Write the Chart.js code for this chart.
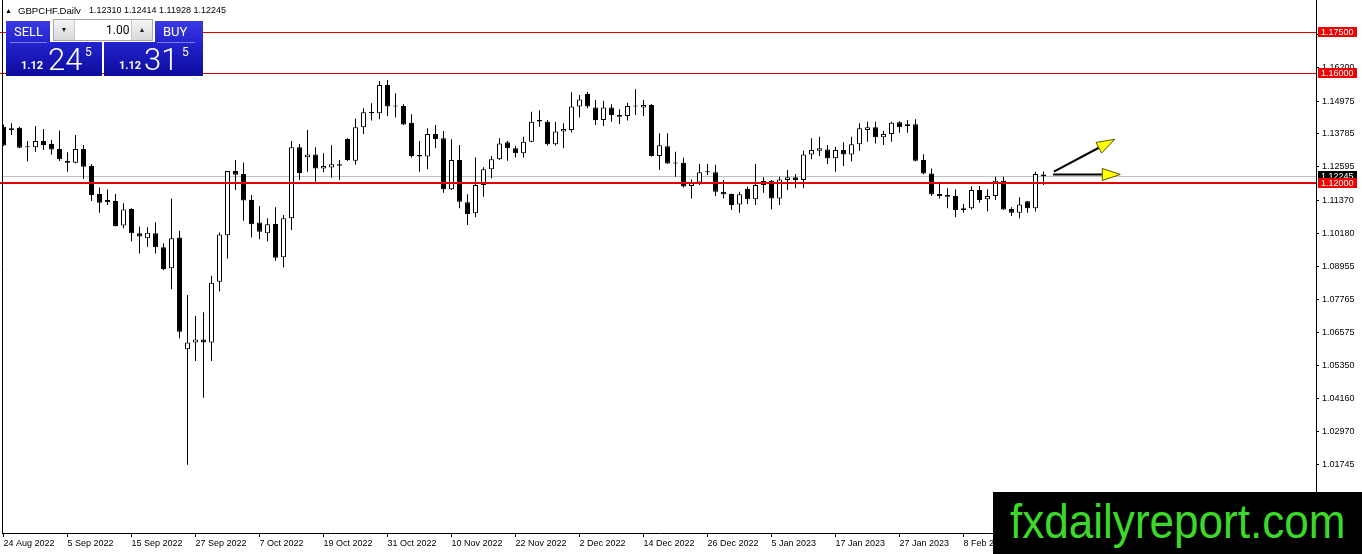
<!DOCTYPE html>
<html lang="es">
<head>
<meta charset="utf-8">
<title>GBPCHF, Daily</title>
<script src="https://cdn.jsdelivr.net/npm/chart.js@4.4.0/dist/chart.umd.min.js"></script>
<style>
  body { margin: 0; background: #fff; }
  #lienzo { position: relative; width: 1362px; height: 554px; overflow: hidden; background: #fff; font-family: "Liberation Sans", Arial, sans-serif; }
  #grafico { position: absolute; left: 0; top: 0; }
  .txt { position: absolute; white-space: nowrap; line-height: 1; }
  .bloque { position: absolute; background: linear-gradient(180deg, #3b3be6 0%, #2323cf 40%, #0c0c9c 100%); }
  .sep { position: absolute; height: 1px; background: #7c7cf0; }
  #marco { position: absolute; left: 50px; top: 14px; width: 105px; height: 28px; background: #fff; }
  #spin { position: absolute; left: 53px; top: 19px; width: 98px; height: 20px; border: 1px solid #a8a8a8; background: #fff; }
  .boton { position: absolute; top: 0; width: 20px; height: 20px; background: linear-gradient(180deg, #f4f4f4, #d9d9d9); font-size: 7px; line-height: 20px; text-align: center; color: #222; }
  #logo { position: absolute; left: 993px; top: 492px; width: 369px; height: 62px; background: #000; }
</style>
</head>
<body>
<div id="lienzo">
  <canvas id="grafico" width="1362" height="554"></canvas>
  <div id="logo"></div>
</div>
<script>
// Velas diarias GBPCHF (24 Aug 2022 - 22 Feb 2023)
const aperturas = [
  1.1405, 1.1399, 1.1401, 1.1331, 1.1330, 1.1353, 1.1342, 1.1324, 1.1280, 1.1274,
  1.1324, 1.1262, 1.1160, 1.1138, 1.1135, 1.1045, 1.1105, 1.1017, 1.0999, 1.1017,
  1.0966, 1.0890, 1.1002, 1.0595, 1.0620, 1.0631, 1.0620, 1.0841, 1.1010, 1.1244,
  1.1233, 1.1138, 1.1056, 1.1017, 1.1051, 1.0930, 1.1072, 1.1330, 1.1294, 1.1304,
  1.1253, 1.1256, 1.1268, 1.1360, 1.1281, 1.1403, 1.1458, 1.1454, 1.1556, 1.1481,
  1.1480, 1.1419, 1.1302, 1.1296, 1.1378, 1.1363, 1.1177, 1.1284, 1.1130, 1.1090,
  1.1193, 1.1250, 1.1286, 1.1348, 1.1326, 1.1308, 1.1350, 1.1429, 1.1423, 1.1341,
  1.1387, 1.1393, 1.1478, 1.1524, 1.1475, 1.1429, 1.1475, 1.1447, 1.1444, 1.1481,
  1.1475, 1.1484, 1.1298, 1.1334, 1.1274, 1.1274, 1.1189, 1.1202, 1.1239, 1.1239,
  1.1168, 1.1160, 1.1122, 1.1178, 1.1141, 1.1193, 1.1208, 1.1144, 1.1211, 1.1221,
  1.1211, 1.1304, 1.1317, 1.1322, 1.1290, 1.1320, 1.1304, 1.1341, 1.1393, 1.1403,
  1.1366, 1.1378, 1.1421, 1.1407, 1.1414, 1.1284, 1.1235, 1.1160, 1.1156, 1.1153,
  1.1102, 1.1108, 1.1175, 1.1141, 1.1153, 1.1208, 1.1105, 1.1092, 1.1134, 1.1108,
  1.12310
];
const maximos = [
  1.1413, 1.1417, 1.1405, 1.1353, 1.1407, 1.1396, 1.1356, 1.1390, 1.1312, 1.1375,
  1.1338, 1.1268, 1.1184, 1.1176, 1.1160, 1.1126, 1.1108, 1.1041, 1.1039, 1.1057,
  1.0981, 1.1144, 1.1026, 1.0793, 1.0716, 1.0730, 1.0863, 1.1020, 1.1244, 1.1284,
  1.1274, 1.1156, 1.1116, 1.1072, 1.1112, 1.1084, 1.1353, 1.1342, 1.1393, 1.1330,
  1.1308, 1.1337, 1.1284, 1.1363, 1.1435, 1.1472, 1.1490, 1.1571, 1.1575, 1.1526,
  1.1486, 1.1450, 1.1353, 1.1399, 1.1411, 1.1389, 1.1359, 1.1338, 1.1159, 1.1293,
  1.1257, 1.1298, 1.1363, 1.1354, 1.1335, 1.1368, 1.1459, 1.1465, 1.1429, 1.1423,
  1.1417, 1.1530, 1.1520, 1.1532, 1.1502, 1.1499, 1.1486, 1.1468, 1.1492, 1.1541,
  1.1502, 1.1487, 1.1381, 1.1381, 1.1314, 1.1292, 1.1213, 1.1269, 1.1269, 1.1266,
  1.1211, 1.1162, 1.1168, 1.1187, 1.1269, 1.1221, 1.1211, 1.1223, 1.1247, 1.1233,
  1.1318, 1.1363, 1.1368, 1.1338, 1.1332, 1.1348, 1.1368, 1.1417, 1.1423, 1.1423,
  1.1390, 1.1423, 1.1425, 1.1429, 1.1432, 1.1305, 1.1253, 1.1205, 1.1181, 1.1177,
  1.1124, 1.1187, 1.1189, 1.1177, 1.1223, 1.1223, 1.1112, 1.1148, 1.1135, 1.1241,
  1.12414
];
const minimos = [
  1.1335, 1.1375, 1.1326, 1.1278, 1.1314, 1.1320, 1.1304, 1.1280, 1.1241, 1.1272,
  1.1215, 1.1135, 1.1092, 1.1120, 1.1042, 1.1035, 1.0987, 1.0944, 1.0968, 1.0944,
  1.0883, 1.0814, 1.0635, 1.0175, 1.0553, 1.0419, 1.0553, 1.0805, 1.0925, 1.1175,
  1.1063, 1.1003, 1.0995, 1.0987, 1.0917, 1.0893, 1.1029, 1.1211, 1.1241, 1.1205,
  1.1239, 1.1219, 1.1211, 1.1280, 1.1266, 1.1378, 1.1427, 1.1432, 1.1444, 1.1439,
  1.1411, 1.1293, 1.1241, 1.1250, 1.1326, 1.1165, 1.1175, 1.1108, 1.1047, 1.1075,
  1.1150, 1.1217, 1.1284, 1.1281, 1.1293, 1.1293, 1.1348, 1.1405, 1.1336, 1.1336,
  1.1326, 1.1384, 1.1439, 1.1472, 1.1411, 1.1407, 1.1423, 1.1415, 1.1427, 1.1447,
  1.1444, 1.1296, 1.1247, 1.1269, 1.1223, 1.1184, 1.1144, 1.1193, 1.1229, 1.1153,
  1.1144, 1.1102, 1.1092, 1.1124, 1.1120, 1.1165, 1.1104, 1.1120, 1.1175, 1.1181,
  1.1181, 1.1286, 1.1298, 1.1269, 1.1241, 1.1262, 1.1278, 1.1317, 1.1350, 1.1344,
  1.1338, 1.1350, 1.1383, 1.1383, 1.1278, 1.1232, 1.1153, 1.1144, 1.1108, 1.1075,
  1.1092, 1.1104, 1.1128, 1.1096, 1.1138, 1.1102, 1.1080, 1.1072, 1.1092, 1.1096,
  1.11928
];
const cierres = [
  1.1336, 1.1393, 1.1328, 1.1330, 1.1353, 1.1338, 1.1322, 1.1286, 1.1274, 1.1324,
  1.1259, 1.1156, 1.1128, 1.1130, 1.1044, 1.1104, 1.1017, 1.1005, 1.1019, 1.0966,
  1.0887, 1.0999, 1.0659, 1.0620, 1.0631, 1.0620, 1.0837, 1.1013, 1.1244, 1.1230,
  1.1136, 1.1050, 1.1023, 1.1050, 1.0928, 1.1072, 1.1330, 1.1236, 1.1304, 1.1253,
  1.1262, 1.1268, 1.1263, 1.1284, 1.1403, 1.1457, 1.1454, 1.1556, 1.1478, 1.1478,
  1.1413, 1.1298, 1.1296, 1.1378, 1.1360, 1.1177, 1.1284, 1.1132, 1.1087, 1.1193,
  1.1250, 1.1286, 1.1344, 1.1326, 1.1308, 1.1350, 1.1423, 1.1424, 1.1341, 1.1387,
  1.1396, 1.1478, 1.1504, 1.1478, 1.1429, 1.1475, 1.1447, 1.1441, 1.1480, 1.1478,
  1.1484, 1.1298, 1.1337, 1.1271, 1.1271, 1.1187, 1.1199, 1.1239, 1.1241, 1.1168,
  1.1159, 1.1120, 1.1159, 1.1141, 1.1193, 1.1207, 1.1144, 1.1213, 1.1221, 1.1211,
  1.1304, 1.1320, 1.1326, 1.1290, 1.1320, 1.1304, 1.1341, 1.1399, 1.1403, 1.1366,
  1.1378, 1.1419, 1.1403, 1.1414, 1.1281, 1.1235, 1.1159, 1.1153, 1.1150, 1.1102,
  1.1108, 1.1175, 1.1138, 1.1153, 1.1208, 1.1104, 1.1092, 1.1122, 1.1108, 1.1233,
  1.12245
];

// Etiquetas del eje de tiempo (una cada 8 barras)
const etiquetasFechas = [
  "24 Aug 2022", "5 Sep 2022", "15 Sep 2022", "27 Sep 2022", "7 Oct 2022", "19 Oct 2022",
  "31 Oct 2022", "10 Nov 2022", "22 Nov 2022", "2 Dec 2022", "14 Dec 2022", "26 Dec 2022",
  "5 Jan 2023", "17 Jan 2023", "27 Jan 2023", "8 Feb 2023", "20 Feb 2023"
];
const barrasEtiquetas = [0, 8, 16, 24, 32, 40, 48, 56, 64, 72, 80, 88, 96, 104, 112, 120, 128];

// Marcas del eje de precios
const marcasPrecio = [1.17390, 1.16200, 1.14975, 1.13785, 1.12595, 1.11370, 1.10180, 1.08955,
  1.07765, 1.06575, 1.05350, 1.04160, 1.02970, 1.01745, 1.00520];

// Niveles horizontales rojos y precio actual
const nivelesRojos = [1.17500, 1.16000, 1.12000];
const precioBid = 1.12245;

// Flechas dibujadas a la derecha (barra, precio)
const flechasDesde = [[131.3, 1.1241], [131.2, 1.1231]];
const flechasHasta = [[138.9, 1.1359], [139.6, 1.1231]];

const FUENTE = "'Liberation Sans', Arial, sans-serif";

// Datos para la libreria: cuerpos y mechas como barras flotantes
const cuerpos = aperturas.map((o, i) => ({ x: i, y: [o, cierres[i]] }));
const mechas = maximos.map((h, i) => ({ x: i, y: [minimos[i], h] }));
const coloresCuerpo = aperturas.map((o, i) => (cierres[i] >= o ? "#ffffff" : "#000000"));

function dibujarFlecha(ctx, x1, y1, x2, y2) {
  const ang = Math.atan2(y2 - y1, x2 - x1);
  const largo = 18;
  const ancho = 6;
  const bx = x2 - largo * Math.cos(ang);
  const by = y2 - largo * Math.sin(ang);
  ctx.strokeStyle = "#000";
  ctx.lineWidth = 2;
  ctx.beginPath();
  ctx.moveTo(x1, y1);
  ctx.lineTo(bx, by);
  ctx.stroke();
  // punta amarilla
  ctx.fillStyle = "#ffff00";
  ctx.strokeStyle = "#555500";
  ctx.lineWidth = 1;
  ctx.beginPath();
  ctx.moveTo(x2, y2);
  ctx.lineTo(bx + ancho * Math.sin(ang), by - ancho * Math.cos(ang));
  ctx.lineTo(bx - ancho * Math.sin(ang), by + ancho * Math.cos(ang));
  ctx.closePath();
  ctx.fill();
  ctx.stroke();
}

function cajaPrecio(ctx, chart, valor, fondo) {
  const y = Math.round(chart.scales.y.getPixelForValue(valor));
  const x = chart.chartArea.right + 2;
  ctx.fillStyle = fondo;
  ctx.fillRect(x, y - 5, 39, 10);
  ctx.fillStyle = "#ffffff";
  ctx.font = "9px " + FUENTE;
  ctx.textBaseline = "middle";
  ctx.textAlign = "left";
  ctx.fillText(valor.toFixed(5), x + 3, y + 0.5);
}

const pluginLineas = {
  id: "lineas",
  beforeDatasetsDraw(chart) {
    const { ctx, chartArea } = chart;
    const y = Math.round(chart.scales.y.getPixelForValue(precioBid)) + 0.5;
    ctx.save();
    ctx.strokeStyle = "#c0c0c0";
    ctx.lineWidth = 1;
    ctx.beginPath();
    ctx.moveTo(chartArea.left, y);
    ctx.lineTo(chartArea.right, y);
    ctx.stroke();
    ctx.restore();
  },
  afterDatasetsDraw(chart) {
    const { ctx, chartArea, scales } = chart;
    ctx.save();
    nivelesRojos.forEach((nivel, i) => {
      const grueso = i === nivelesRojos.length - 1;
      let y = scales.y.getPixelForValue(nivel);
      y = grueso ? Math.round(y) : Math.round(y) + 0.5;
      ctx.strokeStyle = grueso ? "#e00000" : "#d40000";
      ctx.lineWidth = grueso ? 2 : 1;
      ctx.beginPath();
      ctx.moveTo(0, y);
      ctx.lineTo(chartArea.right, y);
      ctx.stroke();
    });
    flechasDesde.forEach((desde, i) => {
      const hasta = flechasHasta[i];
      dibujarFlecha(ctx,
        scales.x.getPixelForValue(desde[0]), scales.y.getPixelForValue(desde[1]),
        scales.x.getPixelForValue(hasta[0]), scales.y.getPixelForValue(hasta[1]));
    });
    ctx.restore();
  },
  afterDraw(chart) {
    const { ctx, chartArea } = chart;
    ctx.save();
    // marco izquierdo del grafico
    ctx.strokeStyle = "#000";
    ctx.lineWidth = 1;
    ctx.beginPath();
    ctx.moveTo(chartArea.left + 0.5, 0);
    ctx.lineTo(chartArea.left + 0.5, chartArea.bottom);
    ctx.stroke();
    // cajas de precio en el eje derecho
    cajaPrecio(ctx, chart, nivelesRojos[0], "#f00000");
    cajaPrecio(ctx, chart, nivelesRojos[1], "#f00000");
    cajaPrecio(ctx, chart, precioBid, "#000000");
    cajaPrecio(ctx, chart, nivelesRojos[2], "#f00000");
    ctx.restore();
  }
};

const ctx = document.getElementById("grafico").getContext("2d");
const grafico = new Chart(ctx, {
  type: "bar",
  data: {
    datasets: [
      {
        label: "cuerpo",
        data: cuerpos,
        backgroundColor: coloresCuerpo,
        borderColor: "#000000",
        borderWidth: 1,
        borderSkipped: false,
        barThickness: 5,
        minBarLength: 1,
        inflateAmount: 0,
        grouped: false,
        order: 0
      },
      {
        label: "mecha",
        data: mechas,
        backgroundColor: "#000000",
        borderWidth: 0,
        barThickness: 1,
        inflateAmount: 0,
        grouped: false,
        order: 1
      }
    ]
  },
  options: {
    responsive: false,
    animation: false,
    devicePixelRatio: 1,
    events: [],
    layout: { padding: { left: 2, top: 0, right: 0, bottom: 0 } },
    plugins: { legend: { display: false }, tooltip: { enabled: false } },
    scales: {
      x: {
        type: "linear",
        min: -0.1875,
        max: 164.0625,
        offset: false,
        afterBuildTicks: (escala) => {
          escala.ticks = barrasEtiquetas.map((v) => ({ value: v }));
        },
        afterFit: (escala) => {
          escala.height = 21;
          escala.paddingLeft = 0;
          escala.paddingRight = 0;
        },
        ticks: {
          callback: (valor, indice) => etiquetasFechas[indice],
          align: "start",
          autoSkip: false,
          maxRotation: 0,
          padding: 1,
          color: "#000",
          font: { family: FUENTE, size: 9 }
        },
        grid: { drawOnChartArea: false, offset: false, tickLength: 4, color: "#000" },
        border: { color: "#000" }
      },
      y: {
        position: "right",
        min: 0.99272,
        max: 1.18655,
        afterBuildTicks: (escala) => {
          escala.ticks = marcasPrecio.map((v) => ({ value: v }));
        },
        afterFit: (escala) => {
          escala.width = 46;
          escala.paddingTop = 0;
          escala.paddingBottom = 0;
        },
        ticks: {
          callback: (valor) => valor.toFixed(5),
          crossAlign: "near",
          padding: 3,
          color: "#000",
          font: { family: FUENTE, size: 9 }
        },
        grid: { drawOnChartArea: false, tickLength: 3, color: "#000" },
        border: { color: "#000" }
      }
    }
  },
  plugins: [pluginLineas]
});

// Cabecera y panel de compra/venta (texto HTML encima del lienzo)
const lienzo = document.getElementById("lienzo");

function ponerTexto(texto, x, base, tam, opciones = {}) {
  const span = document.createElement("span");
  span.className = "txt";
  span.textContent = texto;
  span.style.left = x + "px";
  span.style.top = (base - 0.845 * tam) + "px";
  span.style.fontSize = tam + "px";
  span.style.color = opciones.color || "#000";
  if (opciones.familia) span.style.fontFamily = opciones.familia;
  if (opciones.peso) span.style.fontWeight = opciones.peso;
  lienzo.appendChild(span);
  return span;
}

function ponerCaja(clase, x, y, w, h) {
  const div = document.createElement("div");
  div.className = clase;
  div.style.left = x + "px";
  div.style.top = y + "px";
  div.style.width = w + "px";
  div.style.height = h + "px";
  lienzo.appendChild(div);
  return div;
}

ponerTexto("\u25B2", 5, 13, 7);
ponerTexto("GBPCHF,Daily", 18, 14, 9.6);
ponerTexto("1.12310 1.12414 1.11928 1.12245", 89, 14, 9);

const ROBOTO = "Roboto, 'Liberation Sans', sans-serif";
ponerCaja("bloque", 6, 21, 96, 55);
ponerCaja("bloque", 104, 21, 99, 55);
ponerCaja("sep", 10, 42, 37, 1);
ponerCaja("sep", 157, 42, 38, 1);

const marco = document.createElement("div");
marco.id = "marco";
lienzo.appendChild(marco);
const spin = document.createElement("div");
spin.id = "spin";
spin.innerHTML = '<div class="boton" style="left:0;border-right:1px solid #c8c8c8">\u25BC</div>' +
  '<div class="boton" style="right:0;border-left:1px solid #c8c8c8">\u25B2</div>';
lienzo.appendChild(spin);

ponerTexto("SELL", 14, 35.5, 13, { color: "#fff", familia: ROBOTO });
ponerTexto("BUY", 163, 35.5, 13, { color: "#fff", familia: ROBOTO });
ponerTexto("1.00", 106, 34.5, 12, { familia: ROBOTO });

ponerTexto("1.12", 21, 69, 11, { color: "#fff", familia: ROBOTO, peso: "bold" });
ponerTexto("24", 48, 70, 31, { color: "#fff", familia: ROBOTO, peso: "300" });
ponerTexto("5", 85, 56, 12, { color: "#fff", familia: ROBOTO });
ponerTexto("1.12", 119, 69, 11, { color: "#fff", familia: ROBOTO, peso: "bold" });
ponerTexto("31", 144, 70, 31, { color: "#fff", familia: ROBOTO, peso: "300" });
ponerTexto("5", 182, 56, 12, { color: "#fff", familia: ROBOTO });

// Logotipo abajo a la derecha
const logo = document.getElementById("logo");
const marca = document.createElement("span");
marca.className = "txt";
marca.textContent = "fxdailyreport.com";
marca.style.left = "17px";
marca.style.top = (47 - 0.845 * 48) + "px";
marca.style.fontSize = "48px";
marca.style.color = "#3cd92a";
marca.style.transformOrigin = "left top";
marca.style.transform = "scaleX(0.918)";
logo.appendChild(marca);
</script>
</body>
</html>
